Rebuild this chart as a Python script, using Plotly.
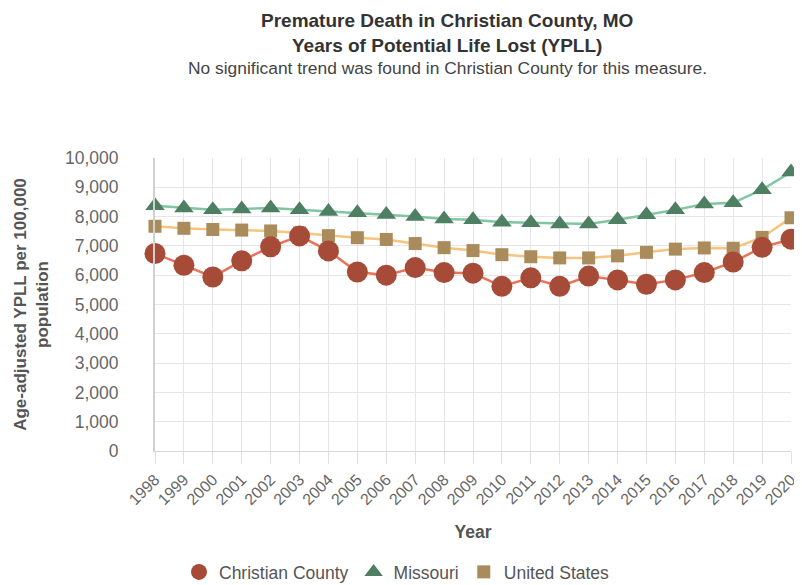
import plotly.graph_objects as go

years = list(range(1998, 2021))
christian = [6740, 6340, 5940, 6490, 6970, 7340, 6830, 6110, 6000, 6260, 6090, 6070,
             5620, 5910, 5620, 5970, 5840, 5690, 5840, 6090, 6450, 6950, 7230]
missouri = [8370, 8290, 8230, 8260, 8290, 8230, 8170, 8130, 8070, 8000, 7920, 7890,
            7810, 7790, 7750, 7750, 7890, 8060, 8230, 8430, 8470, 8920, 9520]
united_states = [7670, 7600, 7560, 7540, 7510, 7440, 7350, 7280, 7220, 7080, 6940, 6840,
                 6700, 6630, 6590, 6590, 6660, 6780, 6890, 6930, 6920, 7290, 7960]
y_ticks = list(range(0, 10001, 1000))

font = "Liberation Sans, Arial, sans-serif"
# page body has an 8px margin: figure placed at (8, 8) in the window
OFF = 8
W, H = 802 - OFF, 585 - OFF
L, T = 155 - OFF, 158 - OFF
R = W - (791 - OFF)
B = H - (451 - OFF)
pw, ph = W - L - R, H - T - B

series = [
    ("United States", united_states, "#F6C47E", "square", 13, "#A98B5C"),
    ("Missouri", missouri, "#80C6A3", "triangle-up", 17, "#4F7F63"),
    ("Christian County", christian, "#E8735A", "circle", 21, "#A64B38"),
]

fig = go.Figure()
for name, vals, lc, sym, size, mc in series:
    fig.add_trace(go.Scatter(x=years, y=vals, name=name, mode="lines", legendgroup=name,
                             showlegend=False, line=dict(color=lc, width=2.5), hoverinfo="skip"))
for name, vals, lc, sym, size, mc in series:
    fig.add_trace(go.Scatter(x=years, y=vals, name=name, mode="markers", legendgroup=name,
                             marker=dict(symbol=sym, size=size, color=mc), cliponaxis=False))

fig.update_layout(
    width=W, height=H,
    margin=dict(l=L, r=R, t=T, b=B, autoexpand=False),
    paper_bgcolor="white", plot_bgcolor="white",
    font=dict(family=font, color="#555"),
    showlegend=True,
    legend=dict(orientation="h", x=(397 - 155) / pw, xanchor="center", y=(451 - 572) / ph,
                yanchor="middle", traceorder="reversed", font=dict(size=17.5, color="#555"),
                itemsizing="trace", itemwidth=30),
    xaxis=dict(range=[1998, 2020], tickmode="array", tickvals=years,
               ticktext=[str(y) for y in years], tickangle=-45, automargin=False,
               tickfont=dict(size=16, color="#666"),
               showgrid=True, gridcolor="#e6e6e6", zeroline=False,
               ticks="outside", ticklen=12, tickcolor="#e0e0e0",
               showline=True, linecolor="#d8d8d8", linewidth=1,
               title=dict(text="<b>Year</b>", font=dict(size=17.5, color="#555"), standoff=18)),
    yaxis=dict(range=[0, 10000], tickmode="array", tickvals=y_ticks,
               ticktext=[f"{v:,}" for v in y_ticks], automargin=False,
               tickfont=dict(size=17.5, color="#666"),
               showgrid=True, gridcolor="#e6e6e6", zeroline=False,
               showline=True, linecolor="#d0d0d0", linewidth=2,
               ticks="", ticklabelstandoff=31,
               title=dict(text="<b>Age-adjusted YPLL per 100,000<br>population</b>",
                          font=dict(size=17, color="#555"), standoff=12)),
)
cx = (447 - 155) / pw
fig.add_annotation(text="<b>Premature Death in Christian County, MO</b>", xref="paper", yref="paper",
                   x=cx, y=1 + (158 - 20) / ph, xanchor="center", yanchor="middle",
                   showarrow=False, font=dict(size=19, color="#333"))
fig.add_annotation(text="<b>Years of Potential Life Lost (YPLL)</b>", xref="paper", yref="paper",
                   x=cx, y=1 + (158 - 45) / ph, xanchor="center", yanchor="middle",
                   showarrow=False, font=dict(size=19, color="#333"))
fig.add_annotation(text="No significant trend was found in Christian County for this measure.",
                   xref="paper", yref="paper",
                   x=cx, y=1 + (158 - 68) / ph, xanchor="center", yanchor="middle",
                   showarrow=False, font=dict(size=17.4, color="#444"))

fig.write_html("out.html")
